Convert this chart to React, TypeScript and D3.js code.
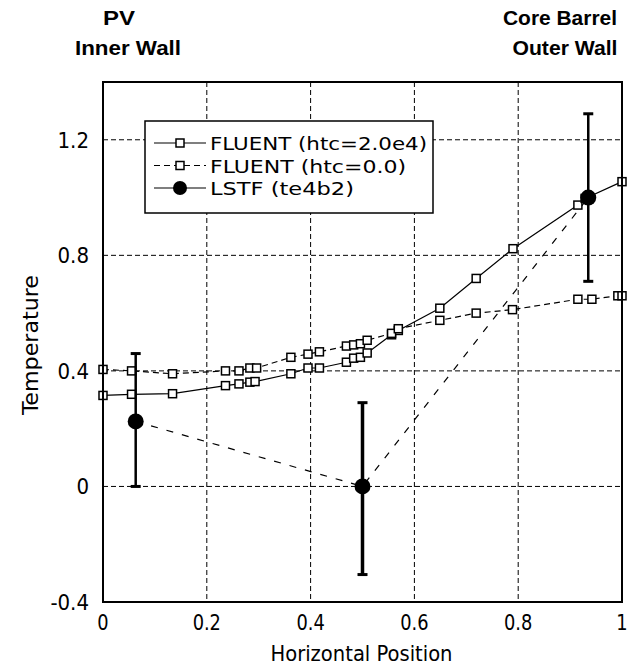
import React, { useEffect, useRef } from "react";
import * as d3 from "d3";

// FLUENT htc=2.0e4 (solid)
const xHtc1 = [0, 0.055, 0.134, 0.236, 0.262, 0.283, 0.293, 0.362, 0.395, 0.417, 0.469, 0.483, 0.496, 0.509, 0.556, 0.569, 0.649, 0.719, 0.79, 0.915, 0.929, 1.0];
const yHtc1 = [0.315, 0.319, 0.321, 0.349, 0.355, 0.361, 0.363, 0.39, 0.41, 0.41, 0.43, 0.444, 0.447, 0.462, 0.525, 0.54, 0.617, 0.72, 0.823, 0.974, 0.997, 1.055];

// FLUENT htc=0.0 (dashed)
const xHtc0 = [0, 0.055, 0.134, 0.236, 0.262, 0.283, 0.296, 0.362, 0.395, 0.417, 0.469, 0.483, 0.496, 0.509, 0.556, 0.569, 0.649, 0.719, 0.789, 0.915, 0.942, 0.992, 1.0];
const yHtc0 = [0.405, 0.4, 0.39, 0.4, 0.4, 0.41, 0.41, 0.447, 0.458, 0.466, 0.486, 0.49, 0.494, 0.506, 0.53, 0.546, 0.575, 0.6, 0.612, 0.648, 0.648, 0.66, 0.66];

// LSTF (te4b2) with error bars
const xLstf = [0.063, 0.5, 0.935];
const yLstf = [0.225, 0.0, 1.0];
const loLstf = [0.0, -0.305, 0.71];
const hiLstf = [0.46, 0.29, 1.29];

const xTicks = [0, 0.2, 0.4, 0.6, 0.8, 1];
const xTickLabels = ["0", "0.2", "0.4", "0.6", "0.8", "1"];
const yTicks = [-0.4, 0, 0.4, 0.8, 1.2];
const yTickLabels = ["-0.4", "0", "0.4", "0.8", "1.2"];
const legendLabels = ["FLUENT (htc=2.0e4)", "FLUENT (htc=0.0)", "LSTF (te4b2)"];

const W = 638;
const H = 670;
const NARROW = "'DejaVu Sans Condensed', 'Liberation Sans Narrow', sans-serif";
const BOLD = "'Liberation Sans', Arial, sans-serif";

const App = () => {
  const ref = useRef<SVGSVGElement>(null);

  useEffect(() => {
    const svg = d3.select(ref.current);
    svg.selectAll("*").remove();

    const left = 103, right = 622, top = 82, bottom = 602;
    const x = d3.scaleLinear().domain([0, 1]).range([left, right]);
    const y = d3.scaleLinear().domain([-0.4, 1.4]).range([bottom, top]);

    svg.append("rect").attr("width", W).attr("height", H).attr("fill", "#fff");

    // grid
    const grid = svg.append("g").attr("stroke", "#000").attr("stroke-width", 1).attr("stroke-dasharray", "5,3");
    xTicks.slice(1, -1).forEach((t) => {
      grid.append("line").attr("x1", x(t)).attr("x2", x(t)).attr("y1", top).attr("y2", bottom);
    });
    yTicks.slice(1).forEach((t) => {
      grid.append("line").attr("x1", left).attr("x2", right).attr("y1", y(t)).attr("y2", y(t));
    });

    // tick labels
    xTicks.forEach((t, i) => {
      svg.append("text").attr("x", x(t)).attr("y", bottom + 28).attr("text-anchor", "middle")
        .attr("font-family", NARROW).attr("font-size", 22).attr("transform-origin", `${x(t)} ${bottom}`)
        .attr("transform", "scale(0.9,1)").text(xTickLabels[i]);
    });
    yTicks.forEach((t, i) => {
      svg.append("text").attr("x", left - 14).attr("y", y(t) + 8).attr("text-anchor", "end")
        .attr("font-family", NARROW).attr("font-size", 22).text(yTickLabels[i]);
    });

    svg.append("text").attr("x", (left + right) / 2 - 1).attr("y", 661).attr("text-anchor", "middle")
      .attr("font-family", NARROW).attr("font-size", 21).attr("textLength", 182)
      .attr("lengthAdjust", "spacingAndGlyphs").text("Horizontal Position");
    svg.append("text").attr("transform", `translate(38,345) rotate(-90)`)
      .attr("text-anchor", "middle").attr("font-family", NARROW).attr("font-size", 21)
      .attr("textLength", 140).attr("lengthAdjust", "spacingAndGlyphs").text("Temperature");

    // top labels
    const tl = [
      { t: "PV", x: 119, y: 25, w: 32 },
      { t: "Inner Wall", x: 128, y: 55, w: 106 },
      { t: "Core Barrel", x: 560, y: 25, w: 114 },
      { t: "Outer Wall", x: 565, y: 55, w: 105 },
    ];
    tl.forEach((d) => {
      svg.append("text").attr("x", d.x).attr("y", d.y).attr("text-anchor", "middle")
        .attr("font-family", BOLD).attr("font-weight", "bold").attr("font-size", 20)
        .attr("textLength", d.w).attr("lengthAdjust", "spacingAndGlyphs").text(d.t);
    });

    const line = d3.line<[number, number]>().x((d) => x(d[0])).y((d) => y(d[1]));
    const s1 = xHtc1.map((v, i) => [v, yHtc1[i]] as [number, number]);
    const s0 = xHtc0.map((v, i) => [v, yHtc0[i]] as [number, number]);
    const sl = xLstf.map((v, i) => [v, yLstf[i]] as [number, number]);

    svg.append("path").attr("d", line(s1)).attr("fill", "none").attr("stroke", "#000").attr("stroke-width", 1.2);
    svg.append("path").attr("d", line(s0)).attr("fill", "none").attr("stroke", "#000").attr("stroke-width", 1.2)
      .attr("stroke-dasharray", "6,4");
    svg.append("path").attr("d", line(sl)).attr("fill", "none").attr("stroke", "#000").attr("stroke-width", 1.2)
      .attr("stroke-dasharray", "7,9");

    const sq = 8;
    [s1, s0].forEach((s) => {
      svg.append("g").selectAll("rect").data(s).enter().append("rect")
        .attr("x", (d) => x(d[0]) - sq / 2).attr("y", (d) => y(d[1]) - sq / 2)
        .attr("width", sq).attr("height", sq).attr("fill", "#fff").attr("stroke", "#000").attr("stroke-width", 1.5);
    });

    // error bars
    xLstf.forEach((v, i) => {
      const sw = i === 1 ? 3.5 : 2.5;
      svg.append("line").attr("x1", x(v)).attr("x2", x(v)).attr("y1", y(loLstf[i])).attr("y2", y(hiLstf[i]))
        .attr("stroke", "#000").attr("stroke-width", sw);
      [loLstf[i], hiLstf[i]].forEach((e) => {
        svg.append("line").attr("x1", x(v) - 5).attr("x2", x(v) + 5).attr("y1", y(e)).attr("y2", y(e))
          .attr("stroke", "#000").attr("stroke-width", 3);
      });
    });
    svg.append("g").selectAll("circle").data(sl).enter().append("circle")
      .attr("cx", (d) => x(d[0])).attr("cy", (d) => y(d[1])).attr("r", 8).attr("fill", "#000");

    // frame
    svg.append("rect").attr("x", left).attr("y", top).attr("width", right - left).attr("height", bottom - top)
      .attr("fill", "none").attr("stroke", "#000").attr("stroke-width", 2);

    // legend
    const lg = svg.append("g");
    lg.append("rect").attr("x", 145).attr("y", 121).attr("width", 288).attr("height", 92)
      .attr("fill", "#fff").attr("stroke", "#000").attr("stroke-width", 1.5);
    const lw = [217, 196, 144];
    legendLabels.forEach((lab, i) => {
      const ly = 143 + i * 22.5;
      lg.append("line").attr("x1", 154).attr("x2", 206).attr("y1", ly).attr("y2", ly)
        .attr("stroke", "#000").attr("stroke-width", 1.2)
        .attr("stroke-dasharray", i === 1 ? "6,4" : null);
      if (i < 2) {
        lg.append("rect").attr("x", 180 - 4).attr("y", ly - 4).attr("width", 8).attr("height", 8)
          .attr("fill", "#fff").attr("stroke", "#000").attr("stroke-width", 1.5);
      } else {
        lg.append("circle").attr("cx", 180).attr("cy", ly).attr("r", 7).attr("fill", "#000");
      }
      lg.append("text").attr("x", 210).attr("y", ly + 7).attr("font-family", NARROW).attr("font-size", 18)
        .attr("textLength", lw[i]).attr("lengthAdjust", "spacingAndGlyphs").text(lab);
    });
  }, []);

  return <svg ref={ref} width={W} height={H} style={{ display: "block", position: "absolute", left: 0, top: 0 }}></svg>;
};

export default App;
